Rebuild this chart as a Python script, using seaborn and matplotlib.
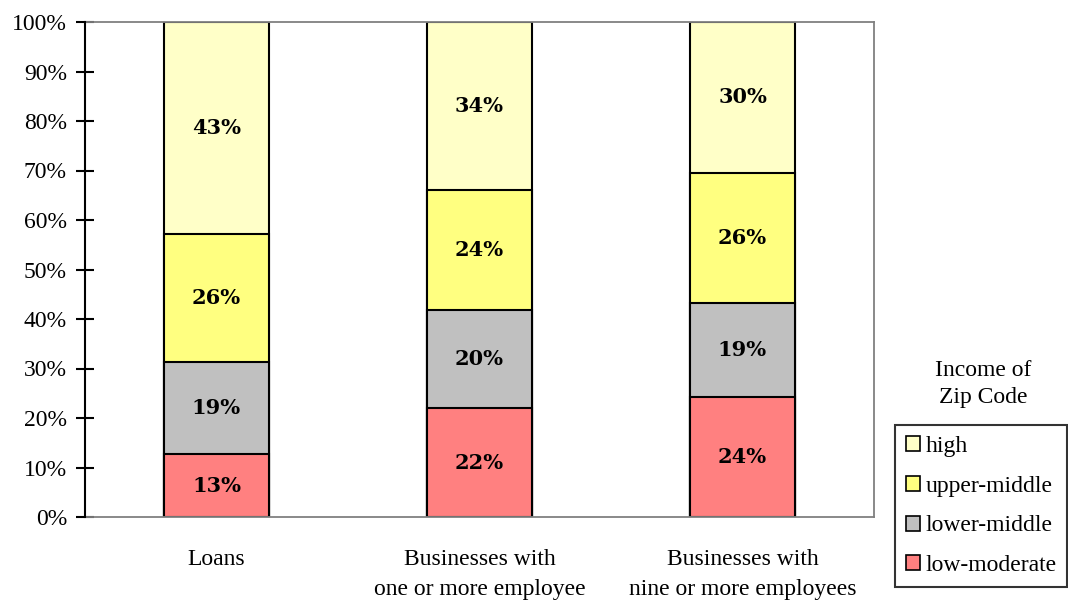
import matplotlib
matplotlib.use("Agg")
import matplotlib.pyplot as plt
import seaborn as sns
import pandas as pd
import numpy as np
from matplotlib.patches import Patch

categories = ["Loans", "Businesses with\none or more employee", "Businesses with\nnine or more employees"]
low_moderate = [12.7, 22.0, 24.2]
lower_middle = [18.6, 19.8, 19.0]
upper_middle = [25.9, 24.3, 26.35]
high = [42.8, 33.9, 30.45]

series_names = ["low-moderate", "lower-middle", "upper-middle", "high"]
series_colors = ["#FF8080", "#C0C0C0", "#FFFF80", "#FFFFC8"]

sns.set_style("white")
plt.rcParams["font.family"] = ["Liberation Serif", "DejaVu Serif"]
plt.rcParams["text.color"] = "black"
plt.rcParams["xtick.color"] = "black"
plt.rcParams["ytick.color"] = "black"
plt.rcParams["xtick.labelcolor"] = "black"
plt.rcParams["ytick.labelcolor"] = "black"

fig = plt.figure(figsize=(10.68, 6.08), dpi=100)
ax = fig.add_axes([85/1068, 1-517/608, (874-85)/1068, (517-22)/608])

series = [low_moderate, lower_middle, upper_middle, high]
cum = np.cumsum(np.array(series), axis=0)
df = pd.DataFrame({"category": categories})

# draw from top-most cumulative down so each segment overlays the previous
for i in range(3, -1, -1):
    df["v"] = cum[i]
    sns.barplot(data=df, x="category", y="v", color=series_colors[i],
                width=0.4, edgecolor="black", linewidth=1.5, ax=ax,
                saturation=1, errorbar=None)

for i in range(4):
    for j in range(3):
        bottom = cum[i][j] - series[i][j]
        ax.text(j, bottom + series[i][j] / 2, f"{series[i][j]:.0f}%",
                ha="center", va="center", fontsize=15, fontweight="bold",
                family="DejaVu Serif", color="black")

ax.set_xlim(-0.5, 2.5)
ax.set_ylim(0, 100)
ax.set_yticks(np.arange(0, 101, 10))
ax.set_yticklabels([f"{t}%" for t in range(0, 101, 10)], fontsize=17)
ax.set_xlabel("")
ax.set_ylabel("")
ax.tick_params(axis="y", direction="inout", length=13, width=1.5, color="black", pad=6.5, left=True)
ax.tick_params(axis="x", length=0, pad=23, labelsize=17)
for lbl in ax.get_xticklabels():
    lbl.set_linespacing(1.55)

ax.spines["left"].set_color("black")
ax.spines["left"].set_linewidth(1.5)
for s in ["top", "right", "bottom"]:
    ax.spines[s].set_color("#808080")
    ax.spines[s].set_linewidth(1.3)
    ax.spines[s].set_visible(True)
ax.spines["left"].set_zorder(5)

fig.text(983/1068, 1-384/608, "Income of\nZip Code", ha="center", va="center",
         fontsize=17, linespacing=1.4)

handles = [Patch(facecolor=series_colors[i], edgecolor="black", linewidth=1.2)
           for i in range(3, -1, -1)]
labels = [series_names[i] for i in range(3, -1, -1)]
leg = fig.legend(handles, labels, loc="upper left",
                 bbox_to_anchor=(895/1068, 1-425/608), fontsize=17,
                 frameon=True, fancybox=False, edgecolor="black",
                 handlelength=0.6, handleheight=0.6, handletextpad=0.25,
                 labelspacing=0.8, borderpad=0.45, borderaxespad=0)
leg.get_frame().set_linewidth(1.5)

fig.savefig("out.png", dpi=100)
